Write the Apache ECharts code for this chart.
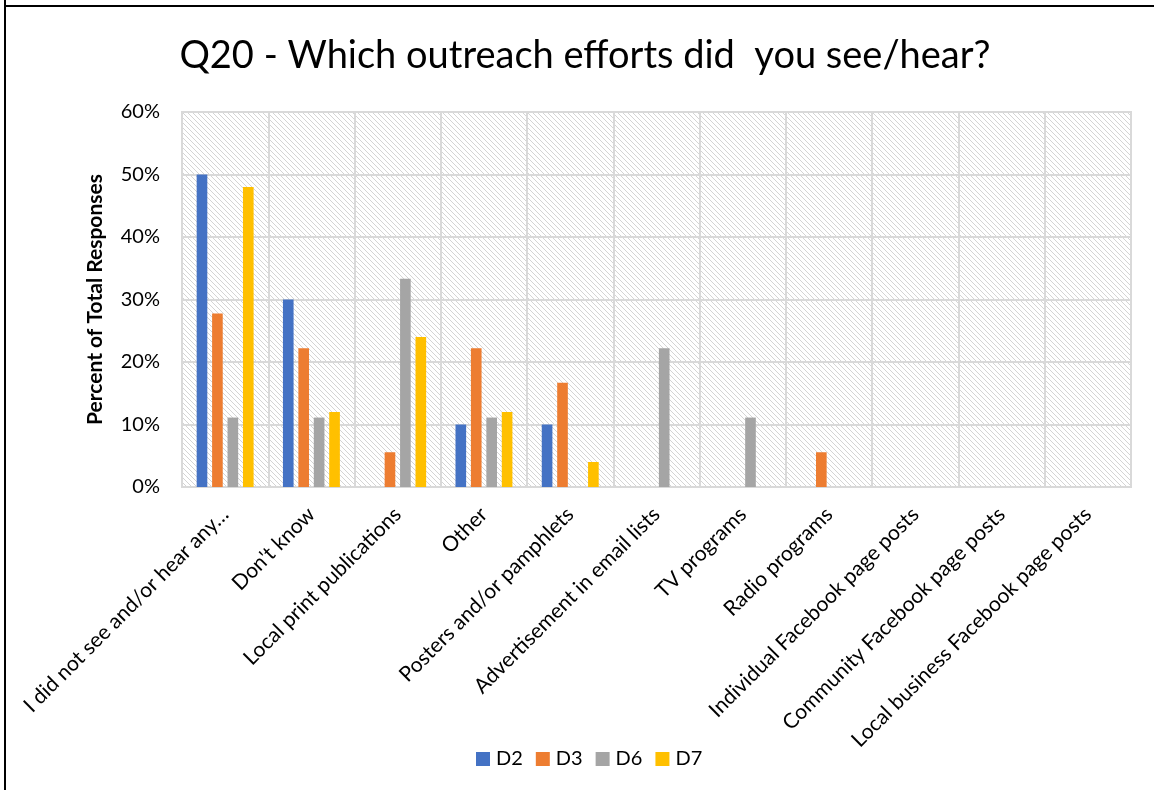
<!DOCTYPE html>
<html>
<head>
<meta charset="utf-8">
<script src="https://cdn.jsdelivr.net/npm/echarts@6/dist/echarts.min.js"></script>
<style>
html,body{margin:0;padding:0;background:#fff;}
#chart{width:1154px;height:790px;}
</style>
</head>
<body>
<div id="chart"></div>
<script>
const categories = [
  "I did not see and/or hear any…",
  "Don't know",
  "Local print publications",
  "Other",
  "Posters and/or pamphlets",
  "Advertisement in email lists",
  "TV programs",
  "Radio programs",
  "Individual Facebook page posts",
  "Community Facebook page posts",
  "Local business Facebook page posts"
];
const seriesNames = ["D2", "D3", "D6", "D7"];
const d2 = [50, 30, 0, 10, 10, 0, 0, 0, 0, 0, 0];
const d3 = [27.78, 22.22, 5.56, 22.22, 16.67, 0, 0, 5.56, 0, 0, 0];
const d6 = [11.11, 11.11, 33.33, 11.11, 0, 22.22, 11.11, 0, 0, 0, 0];
const d7 = [48, 12, 24, 12, 4, 0, 0, 0, 0, 0, 0];
const seriesColors = ["#4472C4", "#ED7D31", "#A5A5A5", "#FFC000"];
const yTicks = [0, 10, 20, 30, 40, 50, 60];

// hatch pattern
const pc = document.createElement('canvas');
pc.width = 5; pc.height = 5;
const ctx = pc.getContext('2d');
ctx.fillStyle = '#ffffff';
ctx.fillRect(0, 0, 5, 5);
ctx.strokeStyle = '#d4d4d4';
ctx.lineWidth = 1;
ctx.beginPath();
ctx.moveTo(-1, -1); ctx.lineTo(6, 6);
ctx.moveTo(-1, 4); ctx.lineTo(1, 6);
ctx.moveTo(4, -1); ctx.lineTo(6, 1);
ctx.stroke();

const font = 'Lato, "Open Sans", sans-serif';
const chart = echarts.init(document.getElementById('chart'), null, {renderer: 'canvas'});
const dataArr = [d2, d3, d6, d7];
chart.setOption({
  animation: false,
  backgroundColor: '#fff',
  title: {
    text: 'Q20 - Which outreach efforts did  you see/hear?',
    left: 580, top: 32, textAlign: 'center',
    textStyle: {fontFamily: font, fontSize: 38, fontWeight: 'normal', color: '#000'}
  },
  graphic: [
    {type: 'line', shape: {x1: 5, y1: 0, x2: 5, y2: 790}, style: {stroke: '#000', lineWidth: 2}},
    {type: 'line', shape: {x1: 5, y1: 6, x2: 1154, y2: 6}, style: {stroke: '#000', lineWidth: 2}}
  ],
  legend: {
    data: seriesNames,
    left: 471, top: 744,
    itemWidth: 14, itemHeight: 14, itemGap: 13,
    icon: 'rect',
    textStyle: {fontFamily: font, fontSize: 20, color: '#000', padding: [0, 0, 0, 1]}
  },
  grid: {
    left: 182, right: 23, top: 112, bottom: 303,
    show: true,
    backgroundColor: {image: pc, repeat: 'repeat'},
    borderColor: '#d9d9d9', borderWidth: 2
  },
  xAxis: {
    type: 'category',
    data: categories,
    axisLine: {lineStyle: {color: '#d9d9d9', width: 2}},
    axisTick: {show: false},
    splitLine: {show: true, interval: 0, lineStyle: {color: '#d9d9d9', width: 2}},
    axisLabel: {
      interval: 0, rotate: 45, margin: 24,
      fontFamily: font, fontSize: 21, color: '#000'
    }
  },
  yAxis: {
    type: 'value',
    min: 0, max: 60, interval: 10,
    name: 'Percent of Total Responses',
    nameLocation: 'middle', nameGap: 76,
    nameTextStyle: {fontFamily: font, fontSize: 21, fontWeight: 'bold', color: '#000'},
    axisLine: {show: false},
    axisTick: {show: false},
    splitLine: {lineStyle: {color: '#d9d9d9', width: 2}},
    axisLabel: {
      fontFamily: font, fontSize: 20, color: '#000', margin: 22,
      formatter: v => yTicks.includes(v) ? v + '%' : ''
    }
  },
  series: seriesNames.map((n, i) => ({
    name: n,
    type: 'bar',
    data: dataArr[i],
    itemStyle: {color: seriesColors[i]},
    barGap: '45%',
    barCategoryGap: '34%'
  }))
});
</script>
</body>
</html>
